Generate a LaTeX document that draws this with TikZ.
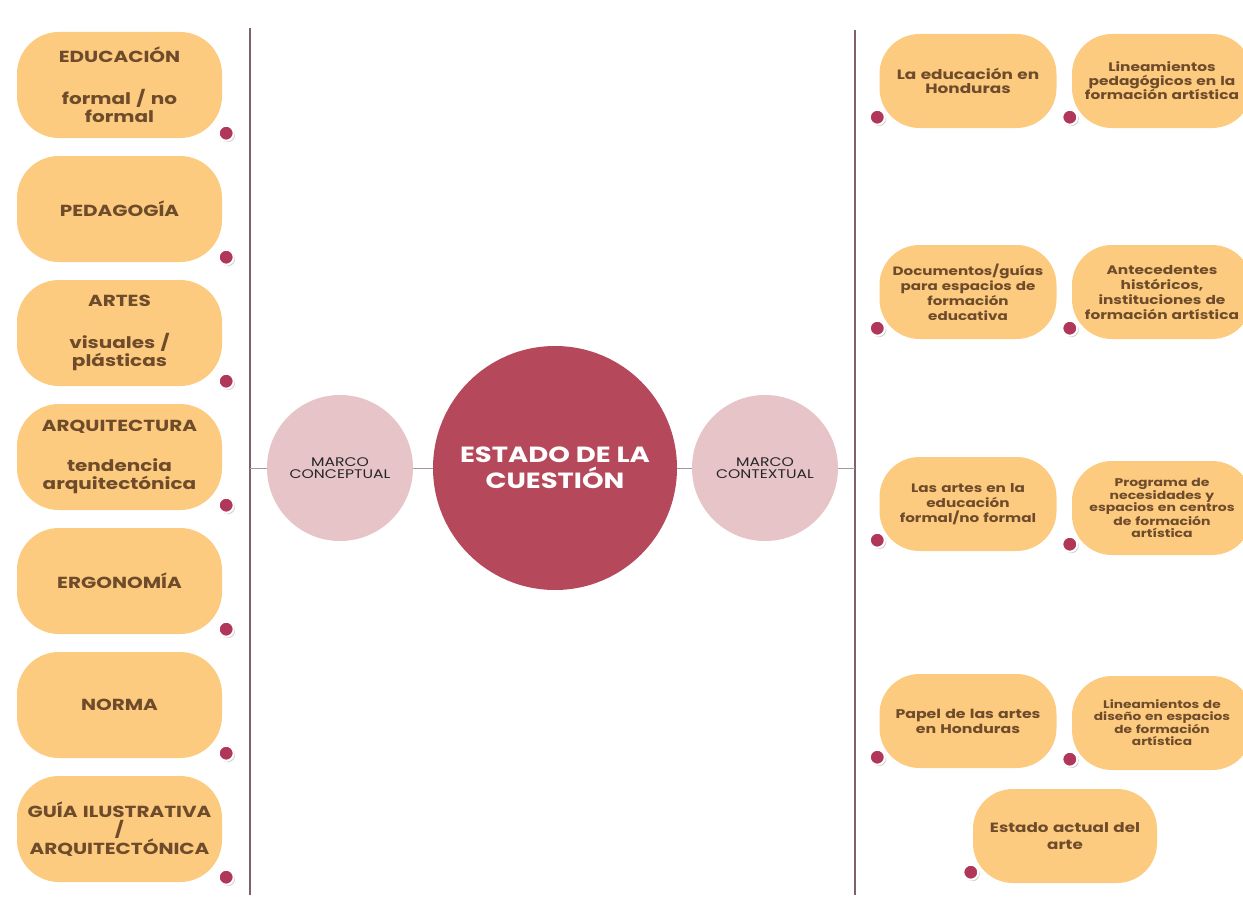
\documentclass[tikz,border=0pt]{standalone}
\usepackage{fontspec}
\setmainfont{Poppins}[FakeStretch=1.25]
\usetikzlibrary{calc,shadows}
\definecolor{boxfill}{HTML}{FCCB80}
\definecolor{boxtext}{HTML}{6E4B2A}
\definecolor{maincirc}{HTML}{B5485A}
\definecolor{sidecirc}{HTML}{E6C4C7}
\definecolor{dotred}{HTML}{B0365A}
\definecolor{vline}{HTML}{80606C}
\definecolor{hline}{HTML}{A8989E}
\begin{document}
\begin{tikzpicture}[x=1pt,y=-1pt,
  lbox/.style={fill=boxfill, rounded corners=42pt, minimum width=205pt, minimum height=106pt,
    text width=200pt, align=center, inner sep=0pt, text=boxtext,
    font=\bfseries\fontsize{16}{18}\selectfont},
  rbox/.style={fill=boxfill, rounded corners=40pt, minimum width=177pt, minimum height=94pt,
    text width=176pt, align=center, inner sep=0pt, text=boxtext,
    font=\bfseries\fontsize{13.5}{15}\selectfont},
  rboxs/.style={rbox, minimum width=180pt, text width=179pt, font=\bfseries\fontsize{12.3}{13.5}\selectfont},
  dotn/.style={circle, fill=dotred, draw=white, line width=2pt, minimum size=15pt, inner sep=0pt,
    drop shadow={shadow xshift=1.5pt, shadow yshift=-1.5pt, fill=black!30, opacity=0.6}},
  sidec/.style={circle, fill=sidecirc, minimum size=146pt, inner sep=0pt, align=center,
    font=\fontsize{12.5}{12.5}\selectfont, text=black!85},
  vl/.style={draw=vline, line width=1.8pt},
  hl/.style={draw=hline, line width=0.8pt}
]
\useasboundingbox (0,0) rectangle (1243,899);
\clip (0,0) rectangle (1243,899);
\fill[white] (0,0) rectangle (1243,899);

% vertical lines
\coordinate (lt) at (250,28);
\coordinate (lb) at (250,895);
\coordinate (rt) at (855,30);
\coordinate (rb) at (855,895);
\draw[vl] (lt) -- (lb);
\draw[vl] (rt) -- (rb);

% horizontal connector
\coordinate (hl1) at (250,468);
\coordinate (hr1) at (855,468);
\draw[hl] (hl1) -- (hr1);

% circles
\node[sidec] (mc) at (340,468) {MARCO\\CONCEPTUAL};
\node[circle, fill=maincirc, minimum size=244pt, inner sep=0pt, align=center, text=white,
  font=\bfseries\fontsize{22}{26}\selectfont] (main) at (555,468) {ESTADO DE LA\\CUESTIÓN};
\node[sidec] (mx) at (765,468) {MARCO\\CONTEXTUAL};

% left boxes
\node[lbox] (L1) at (119.5,85) {EDUCACIÓN\\[24pt]formal / no\\formal};
\node[lbox] (L2) at (119.5,209) {PEDAGOGÍA};
\node[lbox] (L3) at (119.5,333) {ARTES\\[24pt]visuales /\\plásticas};
\node[lbox] (L4) at (119.5,457) {ARQUITECTURA\\[22pt]tendencia\\arquitectónica};
\node[lbox] (L5) at (119.5,581) {ERGONOMÍA};
\node[lbox] (L6) at (119.5,705) {NORMA};
\node[lbox] (L7) at (119.5,829) {GUÍA ILUSTRATIVA\\/\\ARQUITECTÓNICA};

\foreach \i in {1,...,7}{
  \node[dotn] (LD\i) at ($(L\i.south east)+(4,-5)$) {};
}

% right boxes
\node[rbox] (R1) at (968,81) {\raisebox{-4pt}{\shortstack{La educación en\\[1pt]Honduras}}};
\node[rboxs] (S1) at (1162,81) {Lineamientos\\pedagógicos en la\\formación artística};
\node[rbox, font=\bfseries\fontsize{12.1}{15}\selectfont] (R2) at (968,292) {Documentos/guías\\para espacios de\\formación\\educativa};
\node[rboxs, font=\bfseries\fontsize{12.3}{15}\selectfont] (S2) at (1162,292) {Antecedentes\\históricos,\\instituciones de\\formación artística};
\node[rbox, font=\bfseries\fontsize{12.2}{15}\selectfont] (R3) at (968,504) {Las artes en la\\educación\\formal/no formal};
\node[rboxs, font=\bfseries\fontsize{11.2}{12}\selectfont] (S3) at (1162,508) {Programa de\\necesidades y\\espacios en centros\\de formación\\artística};
\node[rbox, font=\bfseries\fontsize{12.6}{15}\selectfont] (R4) at (968,721) {Papel de las artes\\en Honduras};
\node[rboxs, font=\bfseries\fontsize{11}{12}\selectfont] (S4) at (1162,723) {Lineamientos de\\diseño en espacios\\de formación\\artística};
\node[rbox, minimum width=184pt, text width=183pt, font=\bfseries\fontsize{13.4}{17}\selectfont] (R5) at (1065,836) {Estado actual del\\arte};

\foreach \n in {R1,S1,R2,S2,R3,S3,R4,S4,R5}{
  \node[dotn] (D\n) at ($(\n.south west)+(-2,-11)$) {};
}
\end{tikzpicture}
\end{document}
